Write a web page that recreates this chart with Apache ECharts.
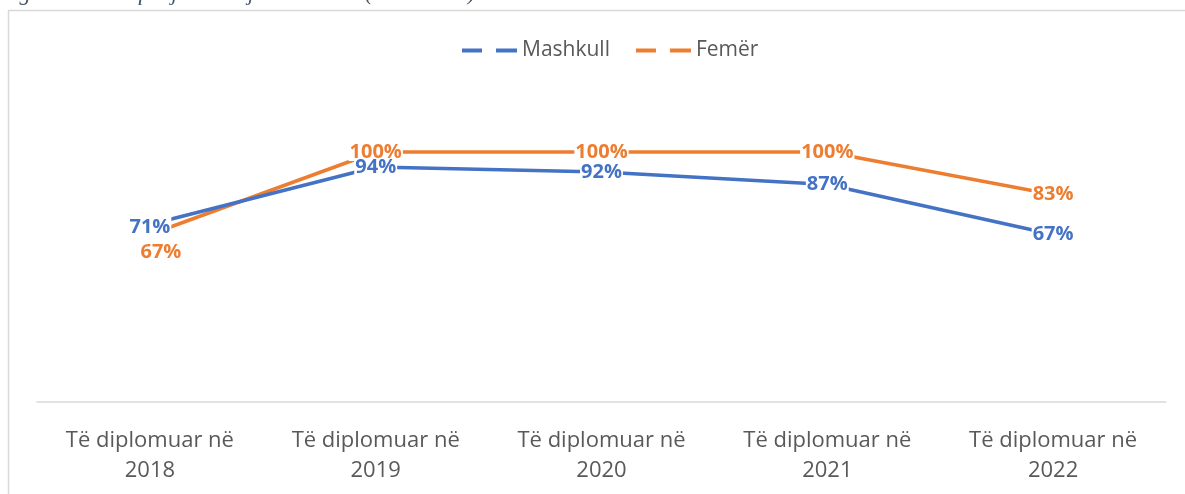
<!DOCTYPE html>
<html>
<head>
<meta charset="utf-8">
<script src="https://cdn.jsdelivr.net/npm/echarts@6/dist/echarts.min.js"></script>
<style>
  html, body { margin: 0; padding: 0; background: #fff; }
  #chart { width: 1185px; height: 494px; }
</style>
</head>
<body>
<div id="chart"></div>
<script>
const categories = [
  'Të diplomuar në\n2018',
  'Të diplomuar në\n2019',
  'Të diplomuar në\n2020',
  'Të diplomuar në\n2021',
  'Të diplomuar në\n2022',
]
const maleValues = [71, 94, 92, 87, 67]
const femaleValues = [67, 100, 100, 100, 83]

const BLUE = '#4472c4'
const ORANGE = '#ed7d31'
const FONT = '"Open Sans", sans-serif'

const chart = echarts.init(document.getElementById('chart'))

// labels sit on the points with a white box hiding the line behind them
const labelStyle = (color) => ({
  show: true,
  position: 'inside',
  formatter: '{c}%',
  color,
  fontFamily: FONT,
  fontSize: 20,
  fontWeight: 'bold',
  lineHeight: 16,
  backgroundColor: '#fff',
  padding: [1, 1],
})

chart.setOption({
  backgroundColor: '#fff',
  animation: false,
  graphic: [
    {
      type: 'rect',
      shape: { x: 8.5, y: 10.5, width: 1200, height: 600 },
      style: { fill: 'none', stroke: '#d9d9d9', lineWidth: 1.5 },
      silent: true,
    },
    {
      type: 'text',
      left: 0,
      top: -17,
      style: {
        text: 'Figura 33: Përqindja e të rrjetit shkollor (2018-2022)',
        font: 'italic 22px "Liberation Serif", serif',
        fill: '#44546a',
      },
      silent: true,
    },
  ],
  legend: {
    top: 35,
    left: 457,
    icon: 'path://M0,0H20V4H0Z M34,0H55V4H34Z',
    itemWidth: 55,
    itemHeight: 4,
    itemGap: 26,
    textStyle: { color: '#595959', fontSize: 21, fontFamily: FONT },
    data: ['Mashkull', 'Femër'],
  },
  grid: { left: 37, right: 19, top: 102, bottom: 92 },
  xAxis: {
    type: 'category',
    data: categories,
    boundaryGap: true,
    axisLine: { lineStyle: { color: '#d9d9d9', width: 1.5 } },
    axisTick: { show: false },
    axisLabel: {
      interval: 0,
      color: '#595959',
      fontSize: 22,
      lineHeight: 30,
      margin: 24,
      fontFamily: FONT,
    },
  },
  yAxis: {
    type: 'value',
    min: 0,
    max: 120,
    interval: 20,
    show: false,
    splitLine: { show: false },
  },
  series: [
    {
      name: 'Mashkull',
      type: 'line',
      data: maleValues.map((v, i) => (i === 0 ? { value: v, label: { padding: [3, 1, 8, 1], offset: [0, 3] } } : v)),
      symbol: 'circle',
      symbolSize: 1,
      itemStyle: { color: BLUE },
      lineStyle: { color: BLUE, width: 3.5 },
      label: labelStyle(BLUE),
      z: 3,
    },
    {
      name: 'Femër',
      type: 'line',
      data: femaleValues.map((v, i) => (i === 0 ? { value: v, label: { offset: [11, 18] } } : v)),
      symbol: 'circle',
      symbolSize: 1,
      itemStyle: { color: ORANGE },
      lineStyle: { color: ORANGE, width: 3.5 },
      label: labelStyle(ORANGE),
      z: 2,
    },
  ],
})
</script>
</body>
</html>
